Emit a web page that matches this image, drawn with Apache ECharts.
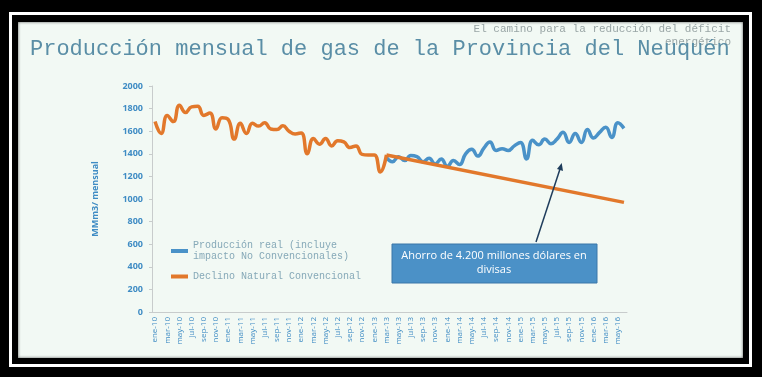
<!DOCTYPE html>
<html>
<head>
<meta charset="utf-8">
<script src="https://cdn.jsdelivr.net/npm/echarts@6/dist/echarts.min.js"></script>
<style>
  html, body { margin: 0; padding: 0; background: #000; }
  #marco { position: absolute; left: 9px; top: 12px; width: 737px; height: 349px; border: 3px solid #fff; }
  #fondo { position: absolute; left: 18px; top: 22px; width: 725px; height: 336px; background: #f2f9f4; box-shadow: inset 0 0 3px #555; }
  #chart { position: absolute; left: 0; top: 0; width: 762px; height: 377px; }
</style>
</head>
<body>
<div id="marco"></div>
<div id="fondo"></div>
<div id="chart"></div>
<script>
// meses y años del eje
var meses = ['ene', 'feb', 'mar', 'abr', 'may', 'jun', 'jul', 'ago', 'sep', 'oct', 'nov', 'dic'];
var anios = ['10', '11', '12', '13', '14', '15', '16'];
var ultimoMes = 'jun-16';

var yTicks = [0, 200, 400, 600, 800, 1000, 1200, 1400, 1600, 1800, 2000];

// produccion historica ene-10 .. mar-13
var historico = [
    1685, 1580, 1740, 1685, 1830, 1765, 1815, 1820, 1740, 1760, 1620, 1720,
    1705, 1530, 1670, 1580, 1670, 1645, 1675, 1620, 1615, 1648, 1600, 1575,
    1585, 1400, 1535, 1485, 1535, 1470, 1515, 1505, 1455, 1470, 1395, 1390,
    1390, 1240, 1390
];

// declino natural (recta) desde mar-13 hasta jun-16
var declinoMeses = ['mar-13', 'jun-16'];
var declinoValores = [1390, 970];

// produccion real mar-13 .. jun-16
var real = [
    1370, 1330, 1375, 1340, 1385, 1375, 1330, 1360, 1310, 1355,
    1290, 1340, 1305, 1400, 1440, 1380, 1450, 1505, 1430, 1445,
    1430, 1470, 1500, 1355, 1520, 1480, 1530, 1490, 1530, 1590,
    1500, 1580, 1500, 1615, 1540, 1590, 1635, 1545, 1675, 1625
];

var nombreReal = 'Producción real (incluye\nimpacto No Convencionales)';
var nombreDeclino = 'Declino Natural Convencional';

var categorias = [];
for (var a = 0; a < anios.length; a++) {
    for (var m = 0; m < meses.length; m++) {
        var c = meses[m] + '-' + anios[a];
        categorias.push(c);
        if (c === ultimoMes) break;
    }
}

var inicioReal = categorias.indexOf('mar-13');
var realData = real.map(function(v, i) { return [categorias[inicioReal + i], v]; });
var declinoData = declinoMeses.map(function(c, i) { return [c, declinoValores[i]]; });

var azul = '#4a92c8';
var naranja = '#e2782b';

var chart = echarts.init(document.getElementById('chart'));
chart.setOption({
    backgroundColor: 'transparent',
    animation: false,
    title: {
        text: 'Producción mensual de gas de la Provincia del Neuquén',
        left: 25,
        top: 33,
        textStyle: { fontFamily: 'Liberation Mono', fontWeight: 'normal', fontSize: 22, color: '#5a8ea6' }
    },
    grid: { left: 152, right: 135, top: 86, bottom: 65 },
    legend: {
        orient: 'vertical',
        left: 166,
        top: 235,
        itemGap: 9,
        itemWidth: 17,
        itemHeight: 4,
        icon: 'rect',
        data: [nombreReal, nombreDeclino],
        textStyle: { fontFamily: 'Liberation Mono', fontSize: 10, lineHeight: 11, color: '#86a9b8' }
    },
    xAxis: {
        type: 'category',
        data: categorias,
        boundaryGap: true,
        axisLine: { lineStyle: { color: '#c8cccc' } },
        axisTick: { interval: 0, length: 3, lineStyle: { color: '#c8cccc' } },
        axisLabel: {
            interval: 1,
            rotate: 90,
            margin: 5,
            fontFamily: 'Open Sans',
            fontSize: 8,
            color: '#3f8cc4'
        }
    },
    yAxis: {
        type: 'value',
        min: yTicks[0],
        max: yTicks[yTicks.length - 1],
        interval: 200,
        name: 'MMm3/ mensual',
        nameLocation: 'middle',
        nameGap: 52,
        nameTextStyle: { fontFamily: 'Open Sans', fontWeight: 'bold', fontSize: 9, color: '#3f8cc4' },
        axisLine: { show: true, lineStyle: { color: '#c8cccc' } },
        axisTick: { show: true, length: 3, lineStyle: { color: '#c8cccc' } },
        splitLine: { show: false },
        axisLabel: {
            margin: 9, fontFamily: 'Open Sans', fontWeight: 'bold', fontSize: 9, color: '#3f8cc4',
            formatter: function(v) { return String(v); }
        }
    },
    series: [{
        name: nombreReal,
        type: 'line',
        data: realData,
        smooth: 0.5,
        symbol: 'none',
        color: azul,
        lineStyle: { width: 3.5, color: azul },
        z: 3
    }, {
        name: nombreDeclino,
        type: 'line',
        data: historico,
        smooth: 0.5,
        symbol: 'none',
        color: naranja,
        lineStyle: { width: 3.5, color: naranja },
        z: 4
    }, {
        name: nombreDeclino,
        type: 'line',
        data: declinoData,
        symbol: 'none',
        color: naranja,
        lineStyle: { width: 3.5, color: naranja },
        z: 4
    }],
    graphic: [{
        type: 'text',
        x: 731, y: 23,
        style: {
            text: 'El camino para la reducción del déficit\nenergético',
            fill: '#9aa6a6',
            font: '11px "Liberation Mono"',
            lineHeight: 13,
            align: 'right',
            verticalAlign: 'top'
        },
        z: 1
    }, {
        type: 'rect',
        shape: { x: 392, y: 244, width: 205, height: 39 },
        style: { fill: '#4b91c7', stroke: '#3a77a8', lineWidth: 1 },
        z: 10
    }, {
        type: 'text',
        x: 494, y: 263,
        style: {
            text: 'Ahorro de 4.200 millones dólares en\ndivisas',
            fill: '#fff',
            font: '11px "Open Sans"',
            lineHeight: 14,
            align: 'center',
            verticalAlign: 'middle'
        },
        z: 11
    }, {
        type: 'line',
        shape: { x1: 536, y1: 242, x2: 560, y2: 169 },
        style: { stroke: '#1f3d5c', lineWidth: 1.5 },
        z: 10
    }, {
        type: 'polygon',
        shape: { points: [[561.7, 163], [563, 171], [557, 169]] },
        style: { fill: '#1f3d5c' },
        z: 10
    }]
});
</script>
</body>
</html>
